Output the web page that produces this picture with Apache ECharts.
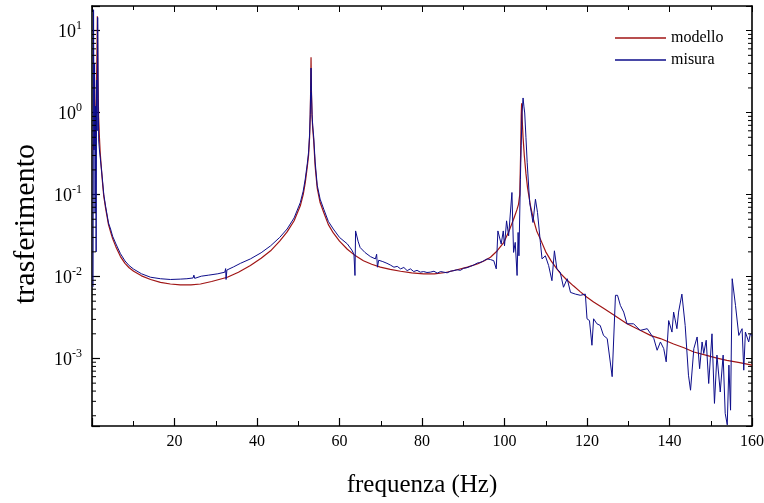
<!DOCTYPE html>
<html>
<head>
<meta charset="utf-8">
<script src="https://cdn.jsdelivr.net/npm/echarts@6/dist/echarts.min.js"></script>
<style>
html,body{margin:0;padding:0;background:#fff;}
#chart{width:764px;height:503px;}
</style>
</head>
<body>
<div id="chart"></div>
<script>
// ---- data ----
const xTickLabels = ['20','40','60','80','100','120','140','160'];
const yTickLabels = ['10^-3','10^-2','10^-1','10^0','10^1'];
const yMinorTicks = [2e-4,3e-4,4e-4,5e-4,6e-4,7e-4,8e-4,9e-4,
  2e-3,3e-3,4e-3,5e-3,6e-3,7e-3,8e-3,9e-3,
  2e-2,3e-2,4e-2,5e-2,6e-2,7e-2,8e-2,9e-2,
  0.2,0.3,0.4,0.5,0.6,0.7,0.8,0.9,
  2,3,4,5,6,7,8,9];
const seriesNames = ['modello','misura'];

const modello = [
 [0.25,0.35],[0.5,0.45],[0.75,0.7],[1.0,1.5],[1.15,3.5],[1.25,9],[1.3,15],[1.35,8],[1.45,2.5],[1.6,0.9],
 [1.8,0.5],[2.0,0.32],[2.3,0.2],[2.6,0.13],[2.86,0.095],[3.3,0.068],[4.0,0.043],[4.5,0.035],[5.0,0.029],
 [5.8,0.023],[6.9,0.0175],[8.0,0.0145],[9.0,0.0128],[10.1,0.0116],[12,0.0102],[14.2,0.0092],[16.6,0.0085],
 [19,0.0081],[21.4,0.0079],[24,0.0079],[26.3,0.0081],[29,0.0087],[32.8,0.0098],[35.5,0.0113],[38.4,0.0136],
 [41,0.0167],[43.3,0.0206],[45.5,0.027],[47.3,0.035],[49,0.048],[50.5,0.073],[51.2,0.1],[51.7,0.14],
 [52.2,0.22],[52.5,0.3],[52.75,0.5],[52.9,0.9],[53.0,1.8],[53.1,4.75],[53.2,1.8],[53.35,0.9],[53.5,0.65],
 [53.75,0.45],[54.1,0.22],[54.6,0.12],[55.3,0.08],[56.2,0.06],[57.3,0.043],[58.5,0.034],[60.0,0.027],
 [61.9,0.0215],[63.8,0.018],[65.8,0.0156],[67.8,0.0141],[69.9,0.013],[72.3,0.0122],[74.8,0.0116],
 [77.5,0.0111],[80.4,0.0108],[83,0.0108],[85.7,0.0112],[88.5,0.0121],[91,0.013],[93.4,0.0142],[95,0.0155],
 [96.6,0.0172],[98.2,0.0205],[99.8,0.026],[101,0.035],[102.2,0.05],[103,0.065],[103.4,0.076],[103.7,0.1],
 [103.9,0.3],[104.05,0.9],[104.15,1.3],[104.3,0.8],[104.5,0.5],[104.8,0.3],[105.2,0.18],[105.6,0.12],
 [106.3,0.073],[107,0.05],[107.8,0.036],[108.7,0.0286],[110,0.02],[111.3,0.0155],[112.7,0.0124],
 [113.5,0.011],[115,0.0092],[116.7,0.0077],[118.4,0.0065],[120,0.0056],[121.6,0.0049],[124,0.0041],
 [126.5,0.0034],[129.7,0.00265],[133,0.0022],[135.5,0.0019],[137.8,0.00175],[141,0.0015],[143.5,0.00135],
 [145.9,0.0012],[149,0.00109],[151.5,0.00101],[153.9,0.00095],[157,0.00089],[160,0.00083]
];

const misura = [
 [0.25,0.0075],[0.375,18],[0.5,0.35],[0.625,4],[0.75,0.06],[0.875,1.2],[1.0,0.02],[1.125,2.5],[1.25,0.6],
 [1.375,14.5],[1.5,1.5],[1.625,0.45],[1.8,0.35],[2.0,0.28],[2.3,0.2],[2.6,0.14],[2.86,0.1],[3.3,0.072],
 [4.0,0.045],[4.5,0.038],[5.0,0.031],[5.8,0.025],[6.9,0.019],[8.0,0.0155],[9.0,0.0136],[10.1,0.0123],
 [12,0.0108],[14.2,0.0098],[16.6,0.0094],[19,0.0092],[21.4,0.0093],[23,0.0094],[24.5,0.0096],[24.7,0.0104],
 [24.9,0.0095],[26.5,0.0101],[28.3,0.0104],[28.5,0.011],[28.7,0.0104],[30.5,0.0108],[32.2,0.0113],
 [32.4,0.0125],[32.5,0.0092],[32.7,0.012],[34.3,0.0131],[36,0.0145],[38.4,0.0164],[41,0.0195],[43.3,0.0237],
 [45.5,0.03],[47.3,0.038],[49,0.052],[50.5,0.08],[51.2,0.11],[51.7,0.155],[52.2,0.24],[52.5,0.33],
 [52.75,0.55],[52.9,0.95],[53.0,1.8],[53.1,3.5],[53.2,1.8],[53.35,0.95],[53.5,0.7],[53.75,0.5],[54.1,0.25],
 [54.6,0.13],[55.3,0.088],[56.2,0.066],[57.3,0.047],[58.5,0.038],[60.0,0.03],[61.9,0.025],[63.0,0.021],
 [63.5,0.0187],[63.75,0.0103],[63.9,0.036],[64.5,0.027],[65.0,0.0226],[66.2,0.0196],[67.5,0.0175],
 [68.7,0.0164],[69.0,0.0187],[69.2,0.013],[69.5,0.0158],[70.5,0.0152],[71.5,0.0145],[72.35,0.0138],
 [73.2,0.013],[74.0,0.0133],[74.8,0.0124],[75.6,0.0129],[76.4,0.0118],[77.2,0.0124],[78.0,0.0115],
 [78.8,0.0119],[79.6,0.0113],[80.4,0.0115],[81.2,0.0112],[82.0,0.0113],[82.9,0.0116],[83.7,0.011],
 [84.5,0.0115],[85.3,0.0113],[86.1,0.0111],[86.9,0.0116],[87.7,0.0118],[88.5,0.0121],[89.3,0.0119],
 [90.1,0.0126],[90.9,0.0128],[91.7,0.0133],[92.5,0.0138],[93.4,0.0146],[94.0,0.0148],[94.6,0.0152],
 [95.2,0.0158],[95.8,0.0164],[96.6,0.0161],[97.4,0.0156],[98.0,0.0124],[98.4,0.036],[98.6,0.0345],
 [99.2,0.0249],[99.7,0.036],[100.0,0.0237],[100.5,0.0478],[101.0,0.0314],[101.8,0.106],[102.2,0.0197],
 [102.6,0.0261],[103.05,0.0103],[103.3,0.0345],[103.5,0.0179],[103.85,0.153],[104.05,0.4],[104.25,0.99],
 [104.5,1.51],[104.7,1.2],[104.9,0.99],[105.2,0.5],[105.5,0.245],[106.1,0.08],[106.9,0.0457],[107.5,0.0877],
 [108.0,0.0604],[108.7,0.0261],[109.1,0.0164],[109.9,0.0179],[110.7,0.0136],[111.5,0.0089],[112.1,0.0206],
 [112.7,0.0124],[113.5,0.0113],[114.3,0.0074],[115.2,0.0094],[116.0,0.0064],[117.2,0.0061],[118.4,0.0059],
 [119.6,0.0061],[120.0,0.00305],[120.6,0.0029],[121.2,0.00145],[121.6,0.00305],[122.4,0.00265],
 [123.2,0.00253],[124.0,0.00191],[124.9,0.00175],[125.3,0.00183],[126.1,0.0006],[126.9,0.0059],
 [127.4,0.0059],[128.1,0.00443],[128.9,0.00368],[129.7,0.00265],[131.3,0.00265],[132.9,0.0022],
 [134.6,0.00231],[136.2,0.00175],[137.0,0.00126],[137.8,0.00159],[138.6,0.00132],[139.2,0.00091],
 [139.8,0.0029],[140.6,0.0021],[141.0,0.00368],[141.8,0.00231],[142.2,0.00368],[143.0,0.0061],
 [143.8,0.00253],[144.6,0.000625],[145.1,0.00041],[145.9,0.00132],[146.7,0.00183],[147.3,0.00075],
 [147.9,0.00159],[148.3,0.00115],[148.9,0.00167],[149.5,0.000495],[150.3,0.002],[150.9,0.000283],
 [151.5,0.0011],[152.3,0.00039],[153.0,0.0011],[153.5,0.000214],[154.0,0.000155],[154.4,0.00083],
 [154.8,0.000234],[155.2,0.0094],[156.0,0.00443],[156.8,0.00191],[157.2,0.0021],[157.6,0.00231],
 [158.0,0.00072],[158.4,0.0021],[159.2,0.00159],[159.6,0.002],[160.0,0.0019]
];

// ---- chart ----
const X_MIN = 0, X_MAX = 160, Y_MIN = 1.5e-4, Y_MAX = 20;
const FONT = 'Liberation Serif';
const RED = '#a01515', BLUE = '#0d0d8a';
const chart = echarts.init(document.getElementById('chart'), null, {renderer:'canvas'});

function yLabel(v){
  const l = Math.log10(v);
  const e = Math.round(l);
  if (Math.abs(l - e) > 1e-6) return '';
  const s = '10^' + e;
  if (yTickLabels.indexOf(s) < 0) return '';
  return '{b|10}{s|' + e + '}';
}
function xLabel(v){
  const s = String(v);
  return xTickLabels.indexOf(s) >= 0 ? s : '';
}
const axisLine = {show:true, onZero:false, lineStyle:{color:'#000', width:1.6}};

chart.setOption({
  animation:false,
  backgroundColor:'#fff',
  grid:{left:92, right:12, top:6, bottom:77, containLabel:false, outerBoundsMode:'none'},
  legend:{
    data:[{name:seriesNames[0], itemStyle:{color:RED}}, {name:seriesNames[1], itemStyle:{color:BLUE}}],
    icon:'rect', orient:'vertical', left:610, top:25,
    itemWidth:51, itemHeight:1.4, itemGap:6,
    textStyle:{fontFamily:FONT, fontSize:16, color:'#000', lineHeight:16}
  },
  xAxis:[{
    type:'value', min:X_MIN, max:X_MAX, interval:20, position:'bottom',
    name:'frequenza (Hz)', nameLocation:'middle', nameGap:47,
    nameTextStyle:{fontFamily:FONT, fontSize:25, color:'#000'},
    axisLine:axisLine,
    axisTick:{show:true, inside:true, length:8, lineStyle:{color:'#000', width:1.2}},
    minorTick:{show:true, splitNumber:2, length:5, lineStyle:{color:'#000', width:1}},
    axisLabel:{formatter:xLabel, fontFamily:FONT, fontSize:16, color:'#000', margin:8},
    splitLine:{show:false}
  },{
    type:'value', min:X_MIN, max:X_MAX, interval:20, position:'top',
    axisLine:axisLine,
    axisTick:{show:true, inside:true, length:6, lineStyle:{color:'#000', width:1}},
    minorTick:{show:true, splitNumber:2, length:4, lineStyle:{color:'#000', width:1}},
    axisLabel:{show:false}, splitLine:{show:false}
  }],
  yAxis:[{
    type:'log', logBase:10, min:Y_MIN, max:Y_MAX, position:'left',
    name:'trasferimento', nameLocation:'middle', nameGap:51,
    nameTextStyle:{fontFamily:FONT, fontSize:30, color:'#000', padding:[0,16,0,0]},
    axisLine:axisLine,
    axisTick:{show:true, inside:true, length:8, lineStyle:{color:'#000', width:1.2}},
    axisLabel:{formatter:yLabel, margin:10, color:'#000',
      rich:{
        b:{fontFamily:FONT, fontSize:18, color:'#000', lineHeight:22, verticalAlign:'bottom'},
        s:{fontFamily:FONT, fontSize:12, color:'#000', lineHeight:12, verticalAlign:'top'}
      }},
    splitLine:{show:false}
  },{
    type:'log', logBase:10, min:Y_MIN, max:Y_MAX, position:'right',
    axisLine:axisLine,
    axisTick:{show:true, inside:true, length:6, lineStyle:{color:'#000', width:1}},
    axisLabel:{show:false}, splitLine:{show:false}
  }],
  series:[
    {name:'modello', type:'line', data:modello, symbol:'none', showSymbol:false,
     lineStyle:{color:RED, width:1.2}, itemStyle:{color:RED}, z:2},
    {name:'misura', type:'line', data:misura, symbol:'none', showSymbol:false,
     lineStyle:{color:BLUE, width:1}, itemStyle:{color:BLUE}, z:3},
    {name:'minorY', type:'custom', silent:true, clip:false, z:5,
     data:yMinorTicks.map(v => [X_MIN, v]),
     renderItem:function(params, api){
       const v = api.value(1);
       const pL = api.coord([X_MIN, v]);
       const pR = api.coord([X_MAX, v]);
       return {type:'group', children:[
         {type:'line', shape:{x1:pL[0], y1:pL[1], x2:pL[0]+4, y2:pL[1]}, style:{stroke:'#000', lineWidth:1}},
         {type:'line', shape:{x1:pR[0], y1:pR[1], x2:pR[0]-4, y2:pR[1]}, style:{stroke:'#000', lineWidth:1}}
       ]};
     }}
  ]
});
</script>
</body>
</html>
